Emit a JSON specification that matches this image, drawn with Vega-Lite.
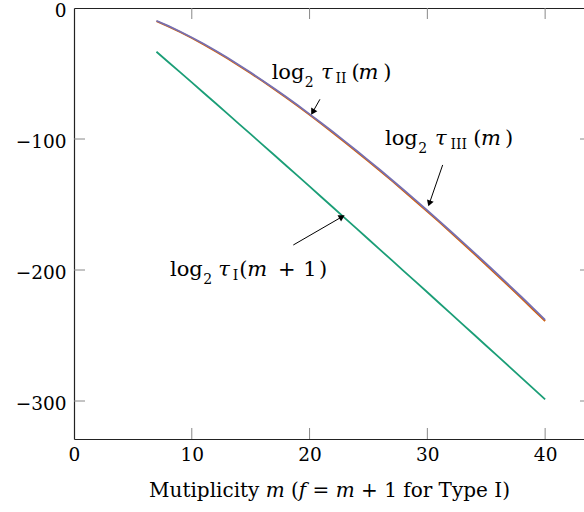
{
  "$schema": "https://vega.github.io/schema/vega-lite/v6.json",
  "width": 510,
  "height": 431,
  "autosize": {"type": "none"},
  "padding": {"left": 74, "top": 8, "right": 0, "bottom": 73},
  "background": "white",
  "config": {"view": {"stroke": null}, "font": "DejaVu Serif"},
  "datasets": {
    "tauI": [
      {"m": 7, "v": -33.4}, {"m": 8, "v": -41.2}, {"m": 9, "v": -49.0}, {"m": 10, "v": -56.8},
      {"m": 11, "v": -64.7}, {"m": 12, "v": -72.5}, {"m": 13, "v": -80.4}, {"m": 14, "v": -88.4},
      {"m": 15, "v": -96.3}, {"m": 16, "v": -104.3}, {"m": 17, "v": -112.2}, {"m": 18, "v": -120.2},
      {"m": 19, "v": -128.2}, {"m": 20, "v": -136.2}, {"m": 21, "v": -144.3}, {"m": 22, "v": -152.3},
      {"m": 23, "v": -160.4}, {"m": 24, "v": -168.4}, {"m": 25, "v": -176.5}, {"m": 26, "v": -184.6},
      {"m": 27, "v": -192.7}, {"m": 28, "v": -200.8}, {"m": 29, "v": -208.9}, {"m": 30, "v": -217.0},
      {"m": 31, "v": -225.2}, {"m": 32, "v": -233.3}, {"m": 33, "v": -241.5}, {"m": 34, "v": -249.6},
      {"m": 35, "v": -257.8}, {"m": 36, "v": -265.9}, {"m": 37, "v": -274.1}, {"m": 38, "v": -282.3},
      {"m": 39, "v": -290.5}, {"m": 40, "v": -298.7}
    ],
    "tauIII": [
      {"m": 7, "v": -10.1}, {"m": 8, "v": -14.0}, {"m": 9, "v": -18.3}, {"m": 10, "v": -22.9},
      {"m": 11, "v": -27.8}, {"m": 12, "v": -33.0}, {"m": 13, "v": -38.4}, {"m": 14, "v": -44.0},
      {"m": 15, "v": -49.8}, {"m": 16, "v": -55.8}, {"m": 17, "v": -62.0}, {"m": 18, "v": -68.4},
      {"m": 19, "v": -74.9}, {"m": 20, "v": -81.6}, {"m": 21, "v": -88.4}, {"m": 22, "v": -95.4},
      {"m": 23, "v": -102.5}, {"m": 24, "v": -109.7}, {"m": 25, "v": -117.0}, {"m": 26, "v": -124.5},
      {"m": 27, "v": -132.0}, {"m": 28, "v": -139.7}, {"m": 29, "v": -147.5}, {"m": 30, "v": -155.4},
      {"m": 31, "v": -163.3}, {"m": 32, "v": -171.4}, {"m": 33, "v": -179.6}, {"m": 34, "v": -187.8},
      {"m": 35, "v": -196.2}, {"m": 36, "v": -204.6}, {"m": 37, "v": -213.1}, {"m": 38, "v": -221.7},
      {"m": 39, "v": -230.4}, {"m": 40, "v": -239.1}
    ],
    "tauII": [
      {"m": 7, "v": -9.7}, {"m": 8, "v": -13.6}, {"m": 9, "v": -17.9}, {"m": 10, "v": -22.5},
      {"m": 11, "v": -27.3}, {"m": 12, "v": -32.5}, {"m": 13, "v": -37.8}, {"m": 14, "v": -43.5},
      {"m": 15, "v": -49.3}, {"m": 16, "v": -55.3}, {"m": 17, "v": -61.4}, {"m": 18, "v": -67.8},
      {"m": 19, "v": -74.3}, {"m": 20, "v": -81.0}, {"m": 21, "v": -87.8}, {"m": 22, "v": -94.7},
      {"m": 23, "v": -101.8}, {"m": 24, "v": -109.0}, {"m": 25, "v": -116.3}, {"m": 26, "v": -123.7},
      {"m": 27, "v": -131.3}, {"m": 28, "v": -138.9}, {"m": 29, "v": -146.7}, {"m": 30, "v": -154.6},
      {"m": 31, "v": -162.5}, {"m": 32, "v": -170.6}, {"m": 33, "v": -178.7}, {"m": 34, "v": -186.9},
      {"m": 35, "v": -195.2}, {"m": 36, "v": -203.6}, {"m": 37, "v": -212.1}, {"m": 38, "v": -220.6},
      {"m": 39, "v": -229.3}, {"m": 40, "v": -238.0}
    ],
    "xticks": [{"m": 10}, {"m": 20}, {"m": 30}, {"m": 40}],
    "yticks": [{"v": -300}, {"v": -200}, {"v": -100}],
    "annoRoman": [
      {"t": "log", "m": 16.78, "v": -54.2}, {"t": "(", "m": 23.56, "v": -54.2}, {"t": ")", "m": 26.25, "v": -54.2},
      {"t": "log", "m": 26.40, "v": -104.6}, {"t": "(", "m": 33.90, "v": -104.6}, {"t": ")", "m": 36.6, "v": -104.6},
      {"t": "log", "m": 8.15, "v": -204.6}, {"t": "(", "m": 14.03, "v": -204.6}, {"t": "+", "m": 17.31, "v": -204.6},
      {"t": "1", "m": 19.47, "v": -204.6}, {"t": ")", "m": 20.8, "v": -204.6}
    ],
    "annoItalic": [
      {"t": "τ", "m": 20.97, "v": -54.2}, {"t": "m", "m": 24.15, "v": -54.2},
      {"t": "τ", "m": 30.65, "v": -104.6}, {"t": "m", "m": 34.55, "v": -104.6},
      {"t": "τ", "m": 12.25, "v": -204.6}, {"t": "m", "m": 14.7, "v": -204.6}
    ],
    "annoSubLog": [
      {"t": "2", "m": 19.6, "v": -54.2}, {"t": "2", "m": 29.23, "v": -104.6}, {"t": "2", "m": 10.98, "v": -204.6}
    ],
    "annoSubTau": [
      {"t": "II", "m": 22.2, "v": -54.2}, {"t": "III", "m": 31.96, "v": -104.6}, {"t": "I", "m": 13.47, "v": -204.6}
    ],
    "arrows": [
      {"id": "II", "m1": 20.88, "v1": -69.7, "m2": 20.27, "v2": -79.4},
      {"id": "III", "m1": 31.3, "v1": -119.8, "m2": 30.17, "v2": -149.2},
      {"id": "I", "m1": 18.62, "v1": -180.9, "m2": 22.75, "v2": -159.4}
    ]
  },
  "resolve": {"axis": {"x": "independent", "y": "independent"}},
  "layer": [
    {
      "data": {"name": "tauI"},
      "mark": {"type": "line", "color": "#1b9e77", "strokeWidth": 1.8},
      "encoding": {
        "x": {"field": "m", "type": "quantitative",
          "scale": {"domain": [0, 43.3], "nice": false, "zero": false},
          "axis": {"orient": "bottom", "values": [0, 10, 20, 30, 40], "grid": false,
            "domainColor": "#222", "domainWidth": 1.2, "tickOpacity": 0, "tickSize": -11,
            "labelPadding": 17, "labelFont": "DejaVu Serif", "labelFontSize": 18.5, "labelColor": "#000", "labelFlush": false,
            "title": "Mutiplicity 𝑚 (𝑓 = 𝑚 + 1 for Type I)", "titleFont": "DejaVu Serif", "titleFontSize": 20,
            "titleFontWeight": "normal", "titleColor": "#000", "titlePadding": 17}},
        "y": {"field": "v", "type": "quantitative",
          "scale": {"domain": [-329, 0], "nice": false, "zero": false},
          "axis": {"orient": "left", "values": [-300, -200, -100, 0], "grid": false,
            "domainColor": "#222", "domainWidth": 1.2, "tickOpacity": 0, "tickSize": -11,
            "labelPadding": 19, "labelOffset": 2, "labelFont": "DejaVu Serif", "labelFontSize": 18.5, "labelColor": "#000", "labelFlush": false,
            "title": null}}
      }
    },
    {
      "data": {"name": "tauIII"},
      "mark": {"type": "line", "color": "#d95f02", "strokeWidth": 1.8},
      "encoding": {
        "x": {"field": "m", "type": "quantitative",
          "axis": {"orient": "top", "values": [0, 10, 20, 30, 40], "grid": false, "labels": false, "ticks": false, "title": null,
            "domainColor": "#222", "domainWidth": 1.2}},
        "y": {"field": "v", "type": "quantitative", "axis": null}
      }
    },
    {
      "data": {"name": "tauII"},
      "mark": {"type": "line", "color": "#7570b3", "strokeWidth": 1.8},
      "encoding": {
        "x": {"field": "m", "type": "quantitative", "axis": null},
        "y": {"field": "v", "type": "quantitative", "axis": null}
      }
    },
    {
      "data": {"name": "xticks"},
      "mark": {"type": "rule", "color": "#888", "strokeWidth": 1},
      "encoding": {
        "x": {"field": "m", "type": "quantitative", "axis": null},
        "y": {"datum": -329, "type": "quantitative", "axis": null},
        "y2": {"datum": -320.6}
      }
    },
    {
      "data": {"name": "xticks"},
      "mark": {"type": "rule", "color": "#888", "strokeWidth": 1},
      "encoding": {
        "x": {"field": "m", "type": "quantitative", "axis": null},
        "y": {"datum": 0, "type": "quantitative", "axis": null},
        "y2": {"datum": -8.4}
      }
    },
    {
      "data": {"name": "yticks"},
      "mark": {"type": "rule", "color": "#888", "strokeWidth": 1},
      "encoding": {
        "y": {"field": "v", "type": "quantitative", "axis": null},
        "x": {"datum": 0, "type": "quantitative", "axis": null},
        "x2": {"datum": 0.934}
      }
    },
    {
      "data": {"name": "yticks"},
      "mark": {"type": "rule", "color": "#888", "strokeWidth": 1},
      "encoding": {
        "y": {"field": "v", "type": "quantitative", "axis": null},
        "x": {"datum": 42.96, "type": "quantitative", "axis": null},
        "x2": {"datum": 43.3}
      }
    },
    {
      "data": {"name": "arrows"},
      "mark": {"type": "rule", "color": "#000", "strokeWidth": 1},
      "encoding": {
        "x": {"field": "m1", "type": "quantitative", "axis": null},
        "y": {"field": "v1", "type": "quantitative", "axis": null},
        "x2": {"field": "m2"},
        "y2": {"field": "v2"}
      }
    },
    {
      "data": {"name": "arrows"},
      "transform": [{"filter": "datum.id == 'II'"}],
      "mark": {"type": "point", "shape": "triangle-up", "filled": true, "color": "#000", "opacity": 1, "size": 50, "angle": 210},
      "encoding": {
        "x": {"field": "m2", "type": "quantitative", "axis": null},
        "y": {"field": "v2", "type": "quantitative", "axis": null}
      }
    },
    {
      "data": {"name": "arrows"},
      "transform": [{"filter": "datum.id == 'III'"}],
      "mark": {"type": "point", "shape": "triangle-up", "filled": true, "color": "#000", "opacity": 1, "size": 50, "angle": 199},
      "encoding": {
        "x": {"field": "m2", "type": "quantitative", "axis": null},
        "y": {"field": "v2", "type": "quantitative", "axis": null}
      }
    },
    {
      "data": {"name": "arrows"},
      "transform": [{"filter": "datum.id == 'I'"}],
      "mark": {"type": "point", "shape": "triangle-up", "filled": true, "color": "#000", "opacity": 1, "size": 50, "angle": 60},
      "encoding": {
        "x": {"field": "m2", "type": "quantitative", "axis": null},
        "y": {"field": "v2", "type": "quantitative", "axis": null}
      }
    },
    {
      "data": {"name": "annoRoman"},
      "mark": {"type": "text", "font": "DejaVu Serif", "fontSize": 21, "align": "left", "baseline": "alphabetic", "color": "#000"},
      "encoding": {
        "x": {"field": "m", "type": "quantitative", "axis": null},
        "y": {"field": "v", "type": "quantitative", "axis": null},
        "text": {"field": "t"}
      }
    },
    {
      "data": {"name": "annoItalic"},
      "mark": {"type": "text", "font": "DejaVu Serif", "fontStyle": "italic", "fontSize": 21, "align": "left", "baseline": "alphabetic", "color": "#000"},
      "encoding": {
        "x": {"field": "m", "type": "quantitative", "axis": null},
        "y": {"field": "v", "type": "quantitative", "axis": null},
        "text": {"field": "t"}
      }
    },
    {
      "data": {"name": "annoSubLog"},
      "mark": {"type": "text", "font": "DejaVu Serif", "fontSize": 14, "align": "left", "baseline": "alphabetic", "dy": 8, "color": "#000"},
      "encoding": {
        "x": {"field": "m", "type": "quantitative", "axis": null},
        "y": {"field": "v", "type": "quantitative", "axis": null},
        "text": {"field": "t"}
      }
    },
    {
      "data": {"name": "annoSubTau"},
      "mark": {"type": "text", "font": "DejaVu Serif", "fontSize": 14, "align": "left", "baseline": "alphabetic", "dy": 4, "color": "#000"},
      "encoding": {
        "x": {"field": "m", "type": "quantitative", "axis": null},
        "y": {"field": "v", "type": "quantitative", "axis": null},
        "text": {"field": "t"}
      }
    }
  ]
}
